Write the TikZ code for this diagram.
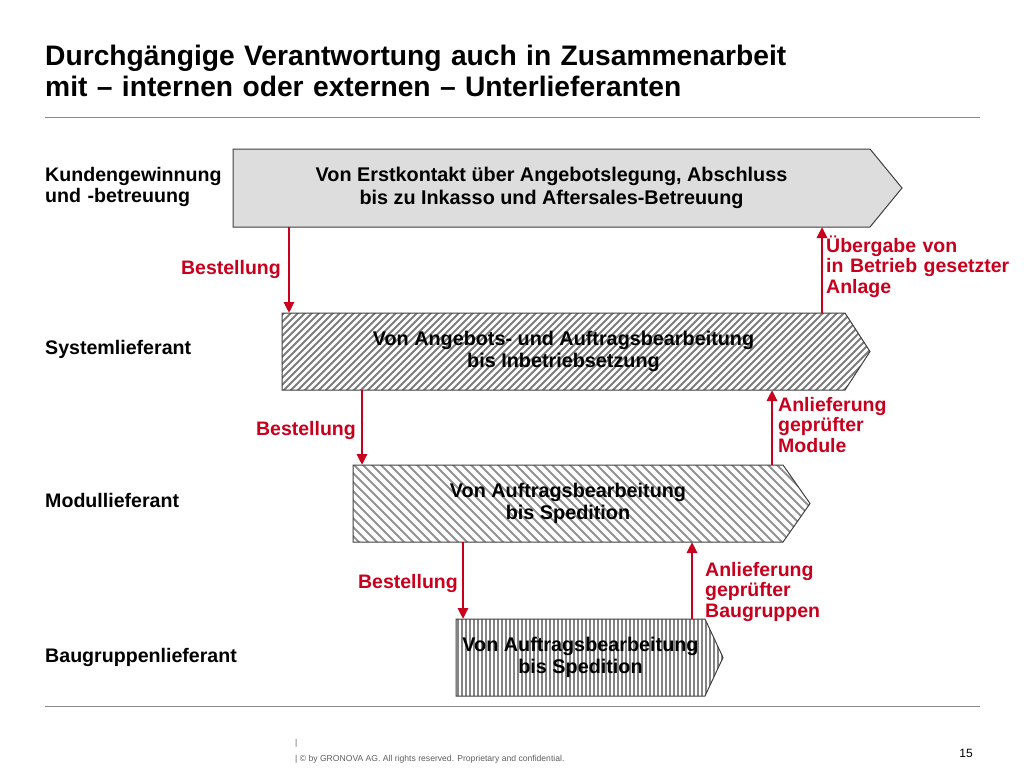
\documentclass[tikz,border=0pt]{standalone}
\usepackage{fontspec}
\setmainfont{Liberation Sans}
\usetikzlibrary{arrows.meta,calc,backgrounds}
\definecolor{redc}{HTML}{C8001E}
\definecolor{rulegray}{HTML}{8C8C8C}
\definecolor{boxfill}{HTML}{DDDDDD}
\definecolor{boxline}{HTML}{404040}
\definecolor{hatchc}{HTML}{6E6E6E}
\definecolor{footgray}{HTML}{606060}
\tikzset{
  bodybox/.style={inner sep=0pt, outer sep=0pt, align=center,
    font=\bfseries\fontsize{19.8}{22.5}\selectfont},
  rowlabel/.style={inner sep=0pt, anchor=base west, align=left, text width=220pt,
    font=\bfseries\fontsize{19.6}{21}\selectfont},
  redlabel/.style={inner sep=0pt, text=redc, align=left, text width=200pt, anchor=base west,
    font=\bfseries\fontsize{19.5}{20.8}\selectfont},
  bestlabel/.style={inner sep=0pt, text=redc, anchor=base east,
    font=\bfseries\fontsize{19.5}{20.8}\selectfont},
  redarrow/.style={draw=redc, line width=2.8pt, -{Triangle[length=11pt,width=10pt]}},
  rulestyle/.style={draw=rulegray, line width=1pt},
  pentagon/.style={draw=boxline, line width=1pt},
  pent/.style 2 args={insert path={(#1.north west) -- (#1.north east) -- ($(#1.east)+(#2,0)$)
    -- (#1.south east) -- (#1.south west) -- cycle}},
  hatchA/.style={draw=hatchc!90, line width=1.9pt},
  hatchB/.style={draw=hatchc!75, line width=1.9pt},
  hatchC/.style={draw=hatchc!85, line width=1.7pt},
}
\begin{document}
\begin{tikzpicture}[x=1pt,y=-1pt]
\useasboundingbox (0,0) rectangle (1024,768);

% title
\node[inner sep=0pt, anchor=base west, align=left, text width=900pt,
  font=\bfseries\fontsize{28.2}{31}\selectfont] (title) at (45,66)
  {Durchgängige Verantwortung auch in Zusammenarbeit\\mit – internen oder externen – Unterlieferanten};
\coordinate (r1a) at (45,117);
\coordinate (r1b) at (980,117);
\draw[rulestyle] (r1a) -- (r1b);
\coordinate (r2a) at (45,706);
\coordinate (r2b) at (980,706);
\draw[rulestyle] (r2a) -- (r2b);

% row labels
\node[rowlabel] (L1) at (45,181) {Kundengewinnung\\und -betreuung};
\node[rowlabel] (L2) at (45,354) {Systemlieferant};
\node[rowlabel] (L3) at (45,507) {Modullieferant};
\node[rowlabel] (L4) at (45,662) {Baugruppenlieferant};

% bodies
\node[bodybox, minimum width=637pt, minimum height=78pt] (B1) at (551.5,188)
  {Von Erstkontakt über Angebotslegung, Abschluss\\bis zu Inkasso und Aftersales-Betreuung};
\node[bodybox, minimum width=563pt, minimum height=77pt] (B2) at (563.5,351.5)
  {Von Angebots- und Auftragsbearbeitung\\bis Inbetriebsetzung};
\node[bodybox, minimum width=430pt, minimum height=77pt] (B3) at (568,503.5)
  {Von Auftragsbearbeitung\\bis Spedition};
\node[bodybox, minimum width=249pt, minimum height=77pt] (B4) at (580.5,657.5)
  {Von Auftragsbearbeitung\\bis Spedition};

\begin{scope}[on background layer]
  \fill[white] (0,0) rectangle (1024,768);
  \path[pentagon, fill=boxfill, pent={B1}{32}];
  % box 2 hatch "/"
  \begin{scope}
    \clip[pent={B2}{25}];
    \foreach \i in {190,197,...,880} \draw[hatchA] (\i,393) -- ++(84,-84);
  \end{scope}
  \path[pentagon, pent={B2}{25}];
  % box 3 hatch "\"
  \begin{scope}
    \clip[pent={B3}{27}];
    \foreach \i in {270,279,...,820} \draw[hatchB] (\i,462) -- ++(84,84);
  \end{scope}
  \path[pentagon, pent={B3}{27}];
  % box 4 vertical hatch
  \begin{scope}
    \clip[pent={B4}{18}];
    \foreach \i in {458,462,...,726} \draw[hatchC] (\i,615) -- (\i,700);
  \end{scope}
  \path[pentagon, pent={B4}{18}];
\end{scope}

% connectors
\draw[redarrow] (289,0 |- B1.south) -- (289,0 |- B2.north);
\draw[redarrow] (822,0 |- B2.north) -- (822,0 |- B1.south);
\draw[redarrow] (362,0 |- B2.south) -- (362,0 |- B3.north);
\draw[redarrow] (772,0 |- B3.north) -- (772,0 |- B2.south);
\draw[redarrow] (463,0 |- B3.south) -- (463,0 |- B4.north);
\draw[redarrow] (692,0 |- B4.north) -- (692,0 |- B3.south);

% red labels
\node[bestlabel] (O1) at (281,274) {Bestellung};
\node[bestlabel] (O2) at (356,435) {Bestellung};
\node[bestlabel] (O3) at (458,588) {Bestellung};
\node[redlabel] (U1) at (826,252) {Übergabe von\\in Betrieb gesetzter\\Anlage};
\node[redlabel] (U2) at (778,411) {Anlieferung\\geprüfter\\Module};
\node[redlabel] (U3) at (705,576) {Anlieferung\\geprüfter\\Baugruppen};

% footer
\node[inner sep=0pt, anchor=base west, text=footgray, font=\fontsize{8.5}{10}\selectfont] (F0) at (295,745) {|};
\node[inner sep=0pt, anchor=base west, text=footgray, font=\fontsize{8.6}{10}\selectfont] (F1) at (295,761)
  {| © by GRONOVA AG. All rights reserved. Proprietary and confidential.};
\node[inner sep=0pt, anchor=base east, text=black, font=\fontsize{12}{14}\selectfont] (PN) at (973,757) {15};
\end{tikzpicture}
\end{document}
